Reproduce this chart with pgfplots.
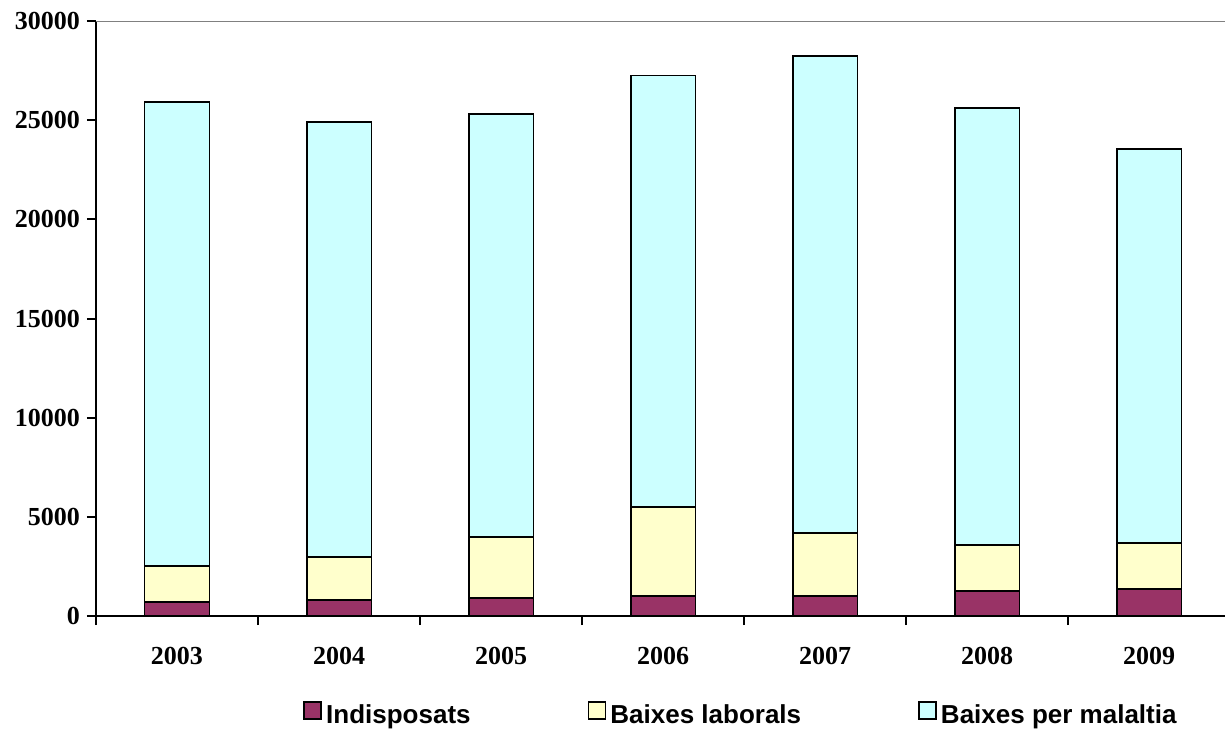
\documentclass[border=0pt]{standalone}
\usepackage{pgfplots}
\pgfplotsset{compat=1.18}
\usepackage{fontspec}
\setmainfont{Liberation Serif}
\newfontfamily\arialf{Liberation Sans}
\definecolor{cInd}{HTML}{993366}
\definecolor{cLab}{HTML}{FFFFCC}
\definecolor{cMal}{HTML}{CCFFFF}
\pgfplotsset{
  sqleg/.style={legend image code/.code={\draw[##1,line width=0.9pt] (0pt,-1.5pt) rectangle (8.5pt,7pt);}}
}
\begin{document}
\begin{tikzpicture}
\useasboundingbox (-48pt,-56.5pt) rectangle (564.5pt,308pt);
\begin{axis}[
  at={(0,0)}, anchor=south west,
  scale only axis, width=567pt, height=297.5pt,
  xmin=-0.5, xmax=6.5, ymin=0, ymax=30000,
  ybar stacked, bar width=0.4,
  axis x line*=bottom, axis y line*=left,
  axis line style={line width=1pt,-},
  tick align=outside, major tick length=4.5pt,
  tick style={black, line width=1pt},
  ytick={0,5000,...,30000},
  xtick={-0.5,0.5,...,6.5}, xticklabels={},
  extra x ticks={0,1,2,3,4,5,6},
  extra x tick labels={2003,2004,2005,2006,2007,2008,2009},
  extra x tick style={major tick length=0pt, xticklabel style={yshift=-12pt}},
  scaled y ticks=false,
  /pgf/number format/1000 sep={},
  /pgf/number format/assume math mode=true,
  tick label style={font=\fontsize{13}{15}\selectfont\bfseries},
  legend columns=3,
  legend style={draw=none, fill=none, inner sep=0pt,
    at={(0.1825,-0.1680)}, anchor=west,
    font=\arialf\bfseries\fontsize{13}{15}\selectfont,
    /tikz/every even column/.append style={column sep=56.5pt}},
]
\addplot[draw=black, line width=0.9pt, fill=cInd, sqleg] coordinates {(0,720) (1,790) (2,920) (3,1000) (4,990) (5,1280) (6,1380)};
\addplot[draw=black, line width=0.9pt, fill=cLab, sqleg] coordinates {(0,1820) (1,2200) (2,3060) (3,4480) (4,3190) (5,2300) (6,2320)};
\addplot[draw=black, line width=0.9pt, fill=cMal, sqleg] coordinates {(0,23360) (1,21910) (2,21320) (3,21770) (4,24060) (5,22020) (6,19850)};
\legend{Indisposats, Baixes laborals, Baixes per malaltia}
\draw[gray, line width=1pt] (rel axis cs:0,1) -- (rel axis cs:1,1);
\end{axis}
\end{tikzpicture}
\end{document}
